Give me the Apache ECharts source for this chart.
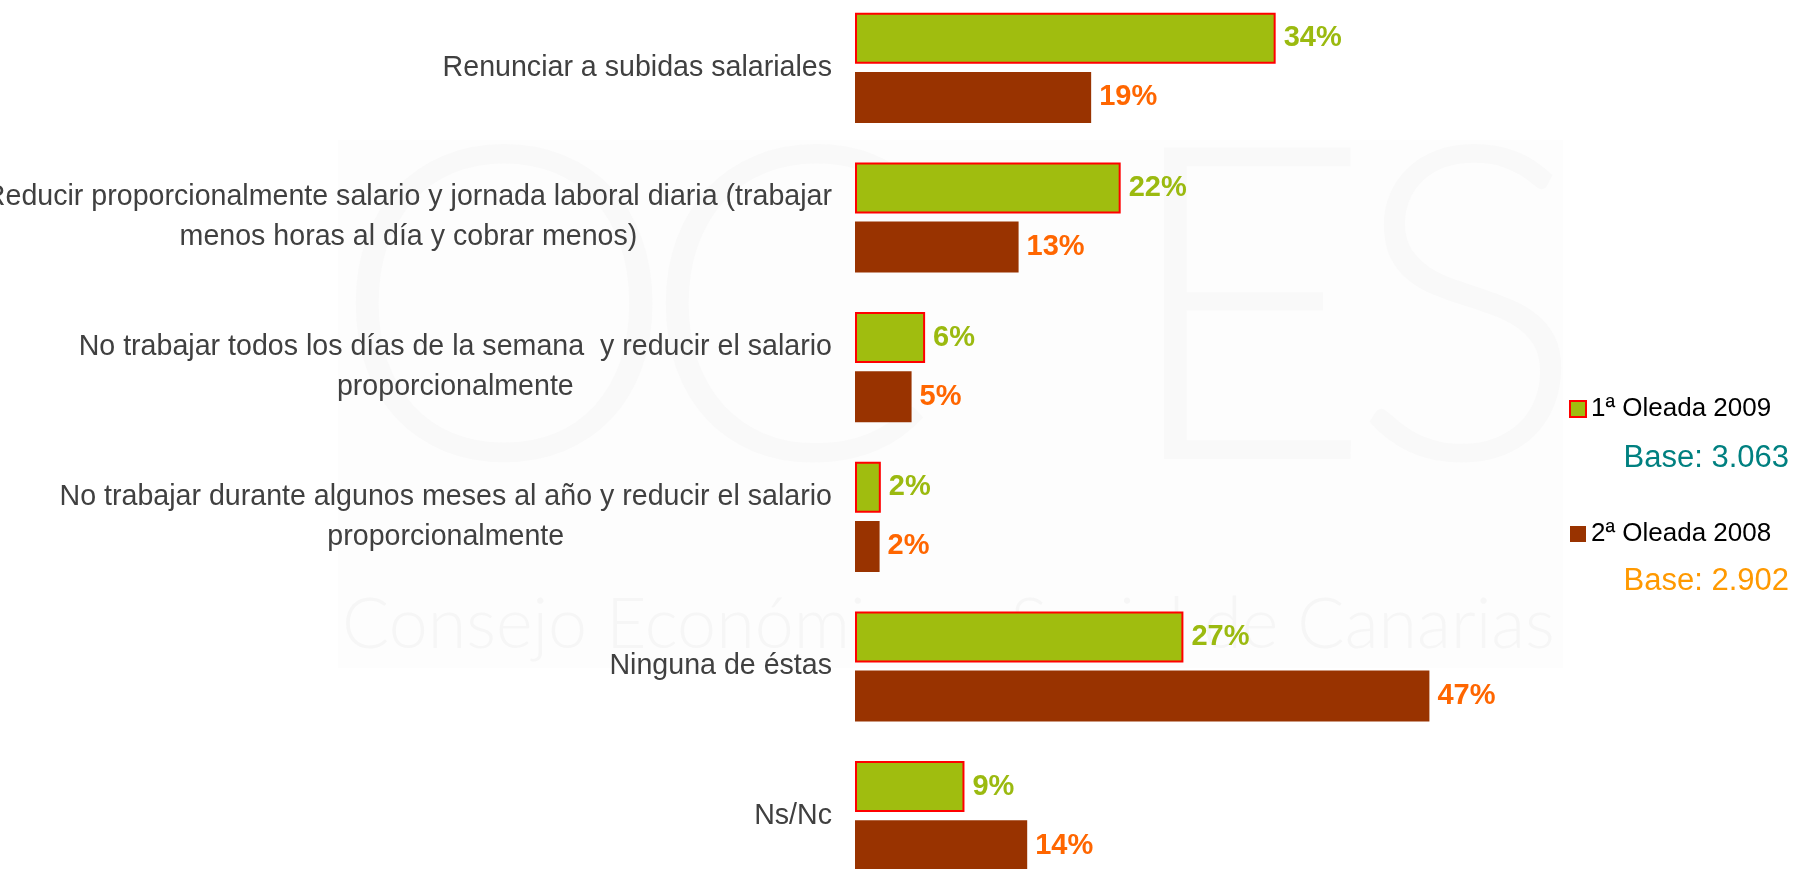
<!DOCTYPE html>
<html>
<head>
<meta charset="utf-8">
<title>Medidas aceptadas</title>
<script src="https://cdn.jsdelivr.net/npm/echarts@6/dist/echarts.min.js"></script>
<style>
  html, body { margin: 0; padding: 0; background: #fff; overflow: hidden; }
  /* the plot runs a little past the top and bottom edges of the picture */
  #chart { width: 1793px; height: 905px; margin-top: -7px; }
</style>
</head>
<body>
<div id="chart"></div>
<script>
const categories = [
  'Renunciar a subidas salariales',
  'Reducir proporcionalmente salario y jornada laboral diaria (trabajar\nmenos horas al día y cobrar menos)',
  'No trabajar todos los días de la semana  y reducir el salario\nproporcionalmente',
  'No trabajar durante algunos meses al año y reducir el salario\nproporcionalmente',
  'Ninguna de éstas',
  'Ns/Nc'
]
const seriesNames = ['1ª Oleada 2009', '2ª Oleada 2008']
const ola2009 = [34.2, 21.6, 5.7, 2.1, 26.7, 8.9]
const ola2008 = [19.2, 13.3, 4.6, 2.0, 46.7, 14.0]
const bases = ['Base: 3.063', 'Base: 2.902']

const font = '"Liberation Sans", Arial, sans-serif'
const chart = echarts.init(document.getElementById('chart'))

const markFont = '300 440px Lato'
const watermark = [
  { type: 'rect', z: -10, silent: true, shape: { x: 338, y: 147, width: 1225, height: 528 }, style: { fill: '#fdfdfd' } },
  { type: 'text', z: -9, silent: true, x: 330, y: 104, style: { text: 'O', font: markFont, fill: '#f9f9f9' } },
  { type: 'text', z: -9, silent: true, x: 640, y: 104, style: { text: 'C', font: markFont, fill: '#f9f9f9' } },
  { type: 'text', z: -9, silent: true, x: 1118, y: 104, style: { text: 'E', font: markFont, fill: '#f9f9f9' } },
  { type: 'text', z: -9, silent: true, x: 1350, y: 104, style: { text: 'S', font: markFont, fill: '#f9f9f9' } },
  { type: 'text', z: -9, silent: true, x: 342, y: 632, style: { text: 'Consejo Económico y Social de Canarias', font: '300 70px Lato', fill: '#f6f6f6', verticalAlign: 'middle' } }
]

const baseTexts = [
  { type: 'text', x: 1789, y: 465, style: { text: bases[0], font: '31px ' + font, fill: '#008080', align: 'right', verticalAlign: 'middle' } },
  { type: 'text', x: 1789, y: 588, style: { text: bases[1], font: '31px ' + font, fill: '#FF9900', align: 'right', verticalAlign: 'middle' } }
]

const barLabel = color => ({
  show: true,
  position: 'right',
  distance: 8,
  formatter: p => Math.round(p.value) + '%',
  fontFamily: font,
  fontSize: 29,
  fontWeight: 'bold',
  color: color
})

const option = {
  backgroundColor: '#fff',
  animation: false,
  graphic: watermark.concat(baseTexts),
  legend: {
    orient: 'vertical',
    left: 1569,
    top: 403,
    padding: 0,
    itemWidth: 16,
    itemHeight: 16,
    itemGap: 99,
    icon: 'rect',
    data: seriesNames,
    textStyle: { fontFamily: font, fontSize: 26, color: '#000', lineHeight: 26 }
  },
  grid: {
    left: 855,
    right: 200,
    top: 0,
    height: 898,
    containLabel: false,
    outerBoundsMode: 'none'
  },
  xAxis: {
    type: 'value',
    min: 0,
    max: 60,
    show: false
  },
  yAxis: {
    type: 'category',
    inverse: true,
    data: categories,
    axisLine: { show: false },
    axisTick: { show: false },
    splitLine: { show: false },
    axisLabel: {
      margin: 23,
      align: 'right',
      formatter: v => v.split('\n').map(l => '{c|' + l + '}').join('\n'),
      rich: {
        c: { align: 'center', fontFamily: font, fontSize: 28.6, lineHeight: 40, color: '#404040' }
      }
    }
  },
  series: [
    {
      name: seriesNames[0],
      type: 'bar',
      data: ola2009,
      barWidth: 51,
      barGap: '16%',
      itemStyle: { color: '#A0BD0F', borderColor: '#FF0000', borderWidth: 2 },
      label: barLabel('#9BBA10')
    },
    {
      name: seriesNames[1],
      type: 'bar',
      data: ola2008,
      barWidth: 51,
      barGap: '16%',
      itemStyle: { color: '#993300' },
      label: barLabel('#FF6600')
    }
  ]
}

chart.setOption(option)
window.addEventListener('resize', () => chart.resize())
</script>
</body>
</html>
